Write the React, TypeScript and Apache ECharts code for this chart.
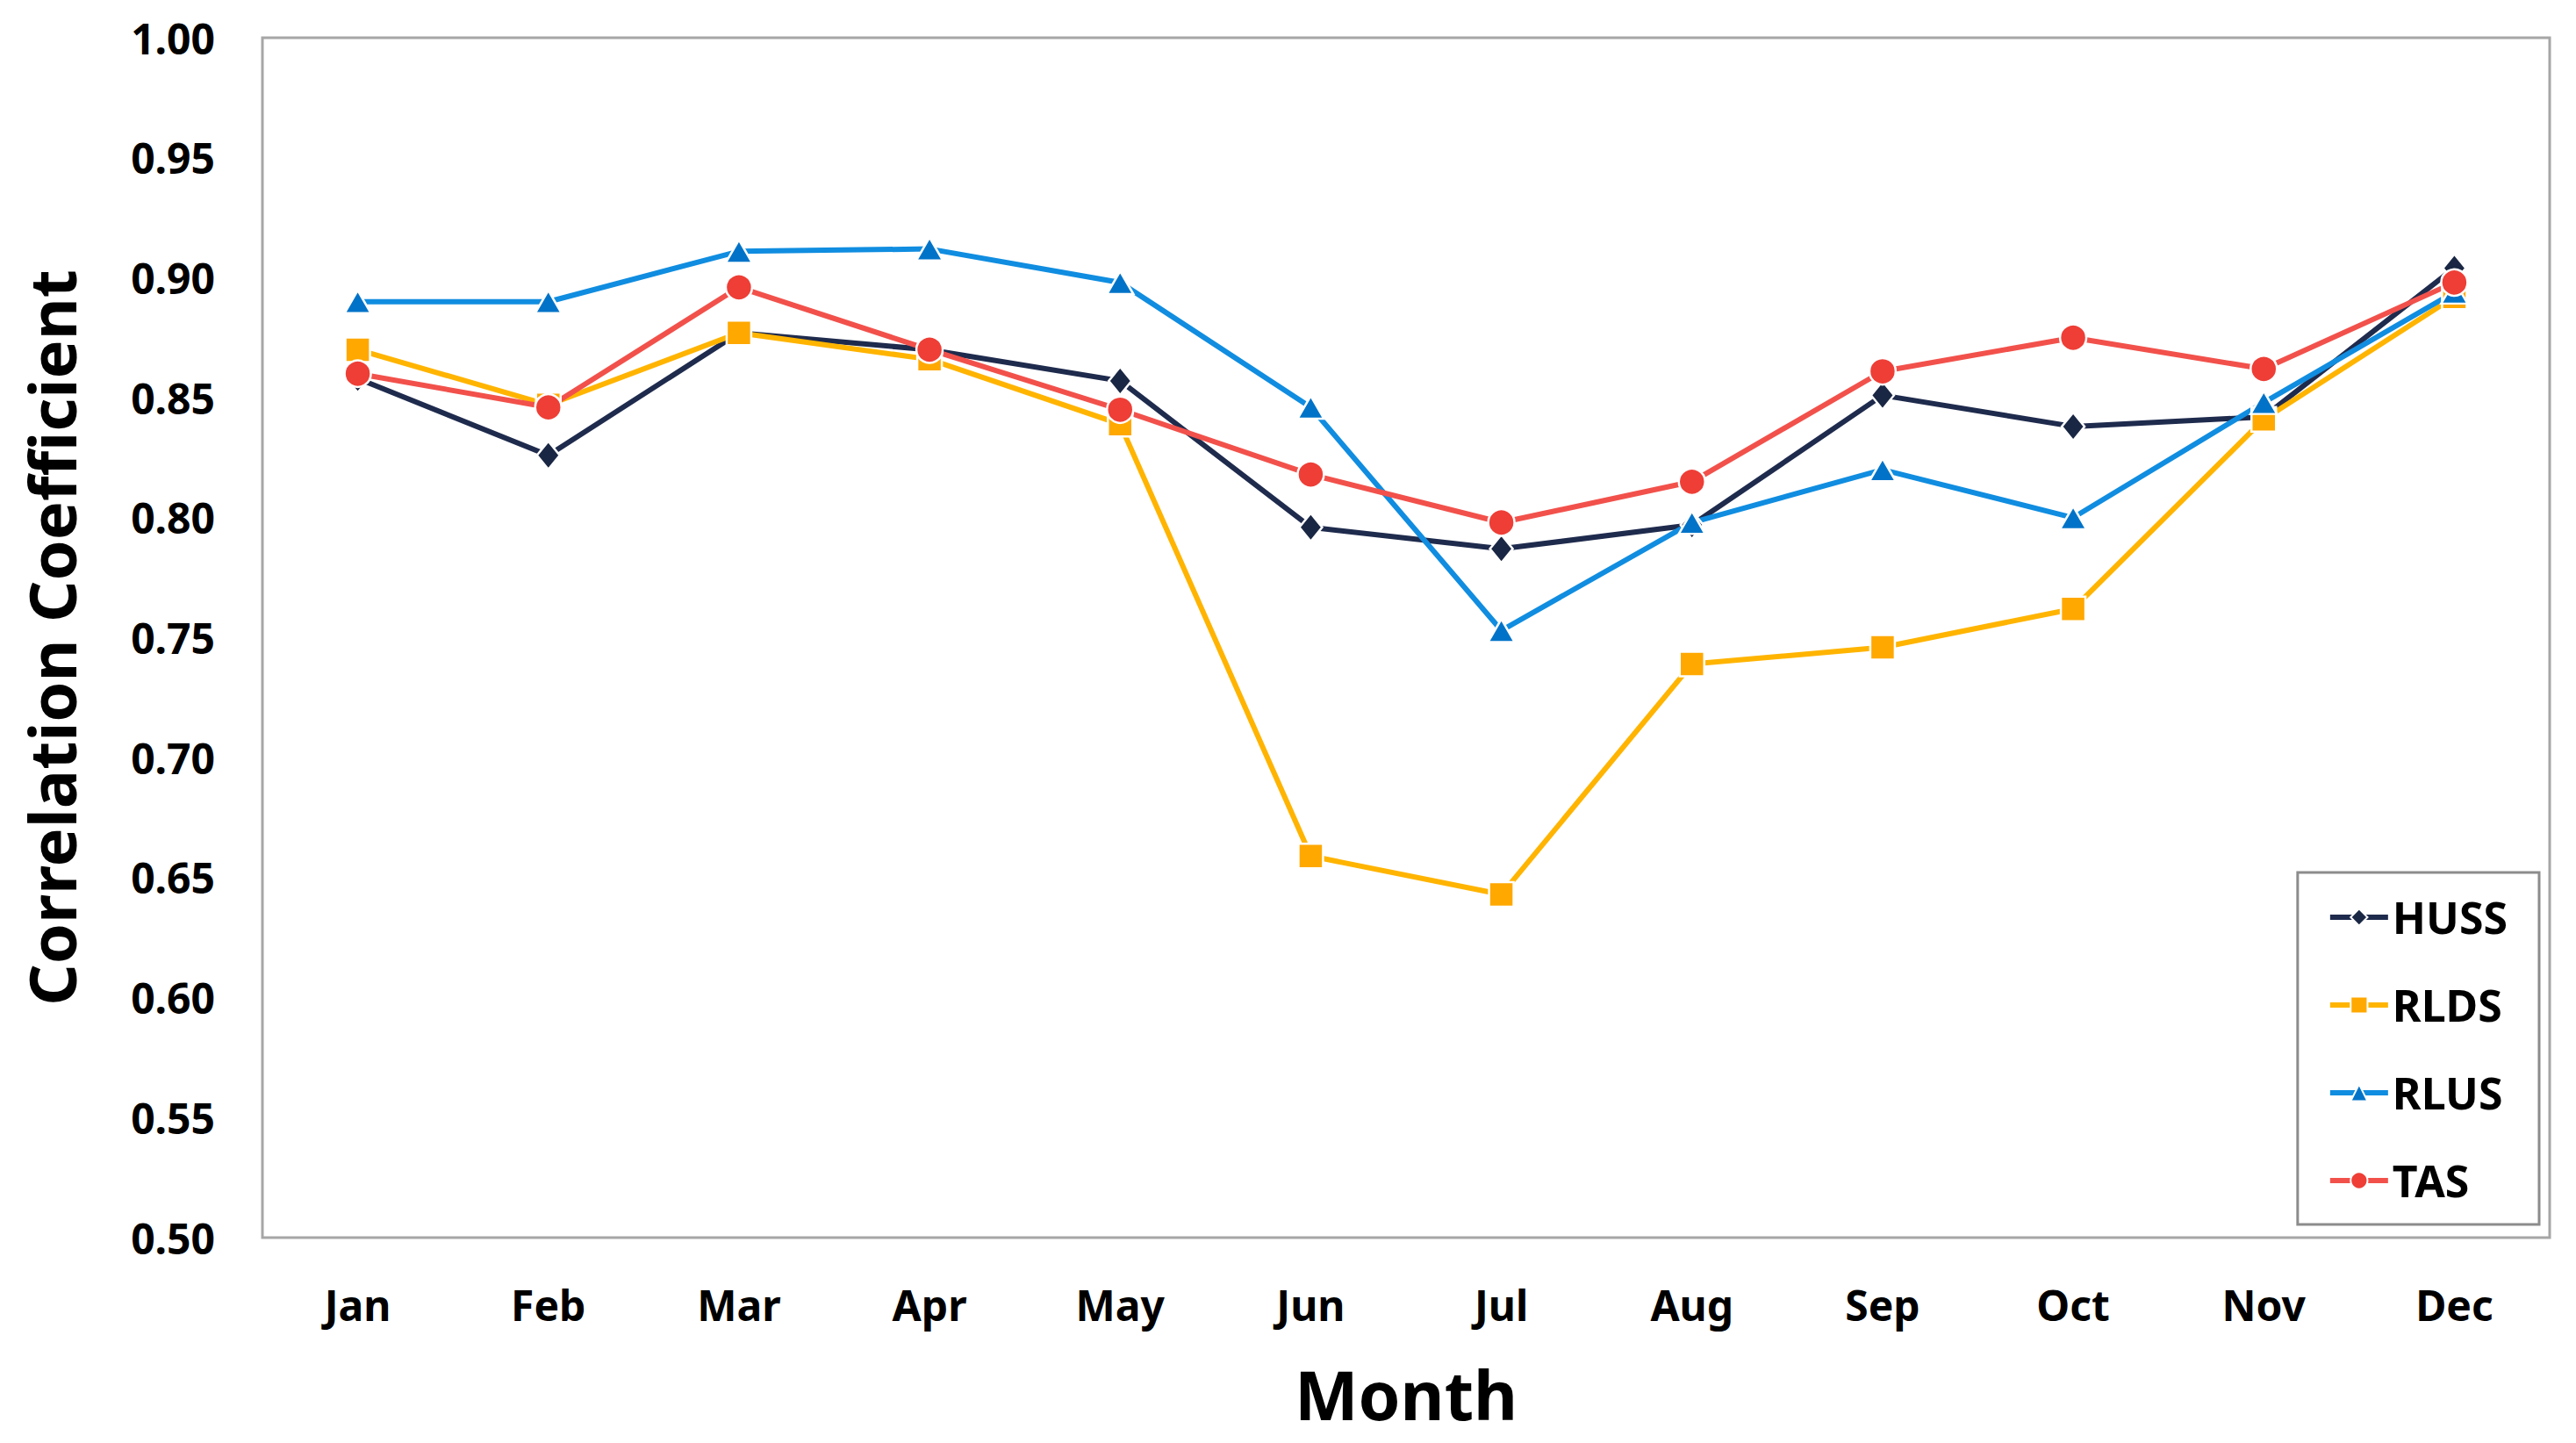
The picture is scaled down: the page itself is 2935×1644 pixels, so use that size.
import React, { useEffect, useRef } from "react";
import * as echarts from "echarts";

const months = ["Jan", "Feb", "Mar", "Apr", "May", "Jun", "Jul", "Aug", "Sep", "Oct", "Nov", "Dec"];
const huss = [0.858, 0.826, 0.877, 0.870, 0.857, 0.796, 0.787, 0.797, 0.851, 0.838, 0.842, 0.904];
const rlds = [0.870, 0.847, 0.877, 0.866, 0.839, 0.659, 0.643, 0.739, 0.746, 0.762, 0.841, 0.892];
const rlus = [0.890, 0.890, 0.911, 0.912, 0.898, 0.846, 0.753, 0.798, 0.820, 0.800, 0.848, 0.894];
const tas = [0.860, 0.846, 0.896, 0.870, 0.845, 0.818, 0.798, 0.815, 0.861, 0.875, 0.862, 0.898];

const yMin = 0.5;
const yMax = 1.0;
const yStep = 0.05;

const FONT = "Noto Sans";

export default function App() {
  const ref = useRef<HTMLDivElement>(null);

  useEffect(() => {
    if (!ref.current) return;
    const chart = echarts.init(ref.current, null, { renderer: "svg" });

    const mk = (
      name: string,
      data: number[],
      lineColor: string,
      markColor: string,
      symbol: string,
      symbolSize: number | number[]
    ) => ({
      name,
      type: "line",
      data,
      symbol,
      symbolSize,
      showSymbol: true,
      lineStyle: { color: lineColor, width: 6 },
      itemStyle: { color: markColor, borderColor: "#ffffff", borderWidth: 2.5 },
      emphasis: { disabled: true },
    });

    chart.setOption({
      animation: false,
      backgroundColor: "#ffffff",
      grid: {
        left: 299,
        right: 30,
        top: 43,
        bottom: 234,
        show: true,
        borderColor: "#a6a6a6",
        borderWidth: 3,
        backgroundColor: "transparent",
      },
      legend: {
        orient: "vertical",
        right: 42,
        top: 994,
        padding: [26, 36, 25, 34],
        itemGap: 50,
        itemWidth: 66,
        itemHeight: 24,
        borderColor: "#8c8c8c",
        borderWidth: 3,
        backgroundColor: "#ffffff",
        lineStyle: { width: 6 },
        textStyle: {
          fontFamily: FONT,
          fontWeight: "bold",
          fontSize: 50,
          lineHeight: 50,
          color: "#000000",
        },
        data: ["HUSS", "RLDS", "RLUS", "TAS"],
      },
      xAxis: {
        type: "category",
        data: months,
        boundaryGap: true,
        axisLine: { show: false },
        axisTick: { show: false },
        splitLine: { show: false },
        axisLabel: {
          margin: 52,
          fontFamily: FONT,
          fontWeight: "bold",
          fontSize: 48,
          color: "#000000",
        },
        name: "Month",
        nameLocation: "middle",
        nameGap: 140,
        nameTextStyle: {
          fontFamily: FONT,
          fontWeight: "bold",
          fontSize: 77,
          color: "#000000",
        },
      },
      yAxis: {
        type: "value",
        min: yMin,
        max: yMax,
        interval: yStep,
        axisLine: { show: false },
        axisTick: { show: false },
        splitLine: { show: false },
        axisLabel: {
          margin: 54,
          fontFamily: FONT,
          fontWeight: "bold",
          fontSize: 48,
          color: "#000000",
          formatter: (v: number) => v.toFixed(2),
        },
        name: "Correlation Coefficient",
        nameLocation: "middle",
        nameGap: 204,
        nameTextStyle: {
          fontFamily: FONT,
          fontWeight: "bold",
          fontSize: 74,
          color: "#000000",
        },
      },
      series: [
        mk("HUSS", huss, "#1f2b4d", "#1a2744", "diamond", [26, 32]),
        mk("RLDS", rlds, "#ffb400", "#ffa800", "rect", 28),
        mk("RLUS", rlus, "#108de0", "#0073c8", "triangle", [30, 26]),
        mk("TAS", tas, "#f2514b", "#ee3e36", "circle", 30),
      ],
    });

    return () => chart.dispose();
  }, []);

  return (
    <div
      ref={ref}
      style={{ position: "absolute", left: 0, top: 0, width: "2935px", height: "1644px" }}
    />
  );
}
